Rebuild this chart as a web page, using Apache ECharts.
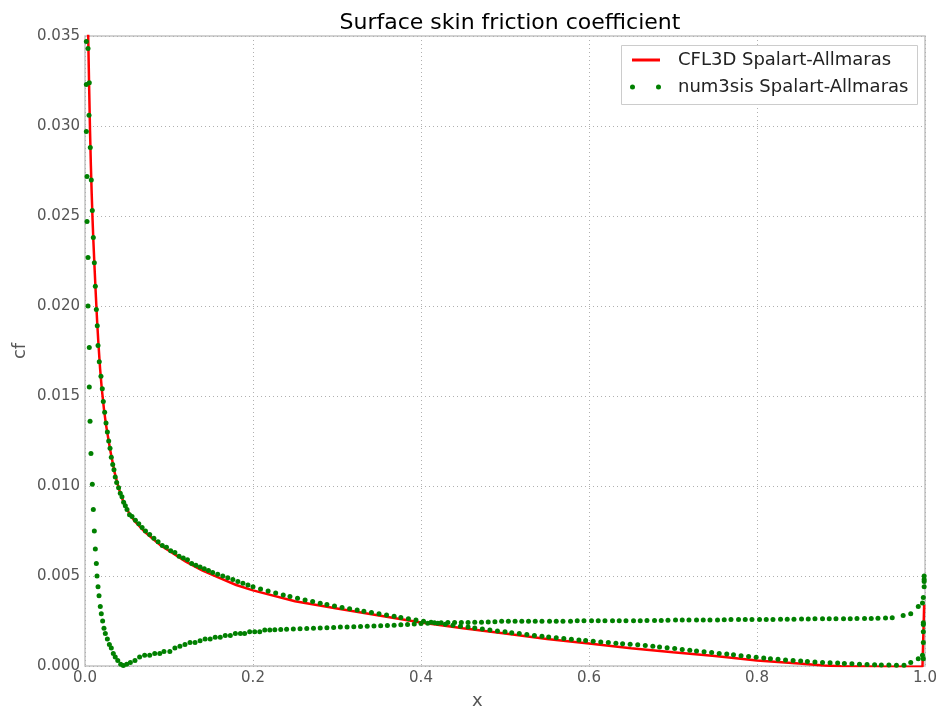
<!DOCTYPE html>
<html>
<head>
<meta charset="utf-8">
<script src="https://cdn.jsdelivr.net/npm/echarts@6/dist/echarts.min.js"></script>
<style>
html,body{margin:0;padding:0;background:#fff;}
#chart{width:940px;height:714px;}
</style>
</head>
<body>
<div id="chart"></div>
<script>
// ---- Data ----
const titleText = 'Surface skin friction coefficient';
const xAxisTitle = 'x';
const yAxisTitle = 'cf';
const lineName = 'CFL3D Spalart-Allmaras';
const dotName = 'num3sis Spalart-Allmaras';
const xTicks = [0.0, 0.2, 0.4, 0.6, 0.8, 1.0];
const yTicks = [0.000, 0.005, 0.010, 0.015, 0.020, 0.025, 0.030, 0.035];

// CFL3D reference line
const cfl3dX = [0.0030,0.0040,0.0050,0.0060,0.0070,0.0080,0.0090,0.0100,0.0115,0.0130,0.0145,0.0160,0.0180,0.0200,0.0225,0.0250,0.0275,0.0300,0.0325,0.0350,0.0400,0.0450,0.0500,0.0550,0.0600,0.0700,0.0800,0.0900,0.1000,0.1200,0.1400,0.1600,0.1800,0.2000,0.2500,0.3000,0.3500,0.4000,0.4500,0.5000,0.5500,0.6000,0.6500,0.7000,0.7500,0.8000,0.8500,0.8800,0.9000,0.9500,0.9970,0.9990];
const cfl3dCf = [0.0370,0.0345,0.0320,0.0297,0.0278,0.0262,0.0248,0.0236,0.0220,0.0205,0.0191,0.0179,0.0165,0.0154,0.0143,0.0134,0.0127,0.0120,0.0114,0.0108,0.0099,0.0092,0.0087,0.0083,0.0080,0.0075,0.0071,0.0067,0.0064,0.0058,0.0053,0.0049,0.0045,0.0042,0.0036,0.0032,0.0028,0.00242,0.0021,0.0018,0.0015,0.00125,0.00098,0.00076,0.00055,0.00031,0.00014,0.00003,-0.00002,-0.00004,-0.00004,0.0034];

// num3sis, upper-surface branch
const upperX = [0.0036,0.0051,0.0048,0.0063,0.0075,0.0087,0.0099,0.0111,0.0123,0.0135,0.0146,0.0155,0.0170,0.0190,0.0206,0.0218,0.0234,0.0250,0.0266,0.0282,0.0298,0.0313,0.0330,0.0345,0.0360,0.0377,0.0400,0.0420,0.0440,0.0460,0.0480,0.0500,0.0530,0.0560,0.0600,0.0640,
0.068,0.072,0.077,0.082,0.087,0.092,0.097,0.102,0.107,0.112,0.117,0.122,0.127,0.132,0.137,0.142,0.147,0.152,0.158,0.164,0.170,0.176,0.182,0.188,0.194,
0.200,0.209,0.218,0.227,0.236,0.244,0.253,0.262,0.271,0.280,0.288,0.297,0.306,0.315,0.324,0.332,0.341,0.350,0.359,0.368,0.376,0.385,0.394,0.403,0.412,0.420,0.429,0.438,0.447,0.456,0.464,0.473,0.482,0.491,0.500,0.508,0.517,0.526,0.535,0.544,0.552,0.561,0.570,0.579,0.588,0.596,0.605,0.614,0.623,0.632,0.640,0.649,0.658,0.667,0.676,0.684,0.693,0.702,0.711,0.720,0.728,0.737,0.746,0.755,0.764,0.772,0.781,0.790,0.799,0.808,0.816,0.825,0.834,0.843,0.852,0.860,0.869,0.878,0.887,0.896,0.904,0.913,0.922,0.931,0.940,0.948,0.957,0.966,0.975,
0.983,0.992,0.997,0.998,0.998,0.998,0.998,0.998];
const upperCf = [0.0343,0.0324,0.0306,0.0288,0.0270,0.0253,0.0238,0.0224,0.0211,0.0198,0.0189,0.0178,0.0169,0.0161,0.0154,0.0147,0.0141,0.0135,0.0130,0.0125,0.0121,0.0116,0.0112,0.0109,0.0105,0.0102,0.0099,0.0096,0.0094,0.0091,0.0089,0.0087,0.0084,0.0083,0.0081,0.0079,
0.0077,0.0075,0.0073,0.0071,0.0069,0.0067,0.0066,0.0064,0.0063,0.0061,0.0060,0.0059,0.0057,0.0056,0.0055,0.0054,0.0053,0.0052,0.0051,0.0050,0.0049,0.0048,0.0047,0.0046,0.0045,
0.00440,0.00428,0.00416,0.00405,0.00394,0.00386,0.00377,0.00367,0.00358,0.00349,0.00341,0.00333,0.00325,0.00318,0.00311,0.00304,0.00297,0.00290,0.00283,0.00277,0.00270,0.00263,0.00255,0.00248,0.00243,0.00237,0.00232,0.00227,0.00221,0.00216,0.00211,0.00205,0.00200,0.00195,0.00190,0.00185,0.00180,0.00175,0.00170,0.00165,0.00161,0.00157,0.00153,0.00149,0.00145,0.00141,0.00137,0.00134,0.00130,0.00127,0.00124,0.00121,0.00118,0.00114,0.00110,0.00106,0.00102,0.00097,0.00092,0.00087,0.00083,0.00079,0.00075,0.00070,0.00066,0.00062,0.00057,0.00053,0.00048,0.00044,0.00040,0.00037,0.00034,0.00031,0.00028,0.00025,0.00022,0.00020,0.00018,0.00016,0.00014,0.00012,0.00010,0.00008,0.00007,0.00006,0.00005,0.00004,0.00004,
0.00020,0.00040,0.00060,0.00040,0.00130,0.00190,0.00230,0.00240];

// num3sis, lower-surface branch
const lowerX = [0.0016,0.0016,0.0016,0.0024,0.0024,0.0036,0.0036,0.0051,0.0051,0.0060,0.0071,0.0087,0.0099,0.0111,0.0123,0.0135,0.0143,0.0155,0.0167,0.0182,0.0194,0.0210,0.0226,0.0242,0.0266,0.0290,0.0313,0.0337,0.0360,0.0390,0.0425,0.0456,0.0496,0.0540,0.0595,0.0650,0.0710,0.0770,0.0830,0.0890,0.0940,
0.101,0.107,0.113,0.119,0.125,0.131,0.137,0.143,0.149,0.155,0.161,0.167,0.173,0.179,0.185,0.190,0.196,0.202,0.208,0.214,0.220,
0.226,0.233,0.240,0.248,0.256,0.264,0.272,0.280,0.288,0.296,0.304,0.312,0.320,0.328,0.336,0.344,0.352,0.360,0.368,0.376,0.384,0.392,0.400,0.408,0.416,0.424,0.432,0.440,0.448,0.456,0.464,0.472,0.480,0.488,0.496,0.504,0.512,0.520,0.528,0.536,0.544,0.553,0.561,0.569,0.578,0.586,0.594,0.603,0.611,0.619,0.628,0.636,0.644,0.653,0.661,0.669,0.678,0.686,0.694,0.703,0.711,0.719,0.728,0.736,0.744,0.753,0.761,0.769,0.778,0.786,0.794,0.803,0.811,0.819,0.828,0.836,0.844,0.853,0.861,0.869,0.878,0.886,0.894,0.903,0.911,0.919,0.928,0.936,0.944,0.953,0.961,
0.974,0.983,0.992,0.997,0.998,0.999,0.999,0.999,0.999];
const lowerCf = [0.0347,0.0323,0.0297,0.0272,0.0247,0.0227,0.0200,0.0177,0.0155,0.0136,0.0118,0.0101,0.0087,0.0075,0.0065,0.0057,0.0050,0.0044,0.0039,0.0033,0.0029,0.0025,0.0021,0.0018,0.0015,0.0012,0.0010,0.0007,0.0005,0.0003,0.0001,0.00003,0.0001,0.0002,0.0003,0.0005,0.0006,0.0006,0.0007,0.0007,0.0008,
0.0008,0.0010,0.0011,0.0012,0.0013,0.0013,0.0014,0.0015,0.0015,0.0016,0.0016,0.0017,0.0017,0.0018,0.0018,0.0018,0.0019,0.0019,0.0019,0.0020,0.0020,
0.00201,0.00203,0.00204,0.00205,0.00207,0.00208,0.00210,0.00211,0.00213,0.00214,0.00216,0.00217,0.00218,0.00219,0.00221,0.00222,0.00223,0.00225,0.00227,0.00229,0.00231,0.00234,0.00236,0.00238,0.00240,0.00240,0.00241,0.00241,0.00242,0.00242,0.00243,0.00243,0.00244,0.00246,0.00248,0.00248,0.00248,0.00248,0.00248,0.00248,0.00248,0.00249,0.00249,0.00249,0.00249,0.00251,0.00252,0.00252,0.00252,0.00252,0.00252,0.00252,0.00252,0.00252,0.00252,0.00253,0.00253,0.00253,0.00254,0.00256,0.00256,0.00256,0.00256,0.00256,0.00256,0.00256,0.00257,0.00258,0.00258,0.00258,0.00258,0.00258,0.00258,0.00259,0.00260,0.00260,0.00260,0.00261,0.00261,0.00262,0.00262,0.00262,0.00262,0.00263,0.00263,0.00264,0.00264,0.00264,0.00265,0.00266,0.00268,
0.0028,0.0029,0.0033,0.0035,0.0038,0.0044,0.0047,0.0048,0.0050];

// ---- Build chart ----
const zip = (xs, ys) => xs.map((x, i) => [x, ys[i]]);
const lineData = zip(cfl3dX, cfl3dCf);
const dotData = zip(upperX, upperCf).concat(zip(lowerX, lowerCf));

const FONT = 'DejaVu Sans';
const chart = echarts.init(document.getElementById('chart'), null, {renderer: 'canvas'});
const gridL = 85, gridT = 36, gridR = 15, gridB = 48;

chart.setOption({
  animation: false,
  backgroundColor: '#ffffff',
  title: {
    text: titleText,
    left: 505, top: 7,
    textAlign: 'center',
    textStyle: {fontFamily: FONT, fontSize: 22, fontWeight: 'normal', color: '#000'}
  },
  grid: {left: gridL, top: gridT, right: gridR, bottom: gridB, show: true,
         borderColor: '#c4c4c4', borderWidth: 1.5, backgroundColor: '#fff'},
  xAxis: {
    type: 'value', min: 0, max: 1, interval: 0.2,
    axisLine: {show: false}, axisTick: {show: false},
    axisLabel: {fontFamily: FONT, fontSize: 15, color: '#555', margin: 5,
                formatter: v => xTicks.includes(+v.toFixed(1)) ? v.toFixed(1) : ''},
    splitLine: {show: true, lineStyle: {color: '#b0b0b0', type: [1, 3], width: 1}}
  },
  yAxis: {
    type: 'value', min: 0, max: 0.035, interval: 0.005,
    axisLine: {show: false}, axisTick: {show: false},
    axisLabel: {fontFamily: FONT, fontSize: 15, color: '#555', margin: 5,
                formatter: v => v.toFixed(3)},
    splitLine: {show: true, lineStyle: {color: '#b0b0b0', type: [1, 3], width: 1}}
  },
  legend: [
    {
      data: [lineName], left: 632, top: 51, padding: 0, z: 20,
      icon: 'rect', itemWidth: 28, itemHeight: 3,
      textStyle: {fontFamily: FONT, fontSize: 18, color: '#222', padding: [0, 0, 0, 13]},
      selectedMode: false
    },
    {
      data: [dotName], left: 630, top: 78, padding: 0, z: 20,
      icon: 'path://M0,2.5a2.5,2.5 0 1,0 5,0a2.5,2.5 0 1,0 -5,0M26,2.5a2.5,2.5 0 1,0 5,0a2.5,2.5 0 1,0 -5,0',
      itemWidth: 31, itemHeight: 5,
      textStyle: {fontFamily: FONT, fontSize: 18, color: '#222', padding: [0, 0, 0, 12]},
      selectedMode: false
    }
  ],
  graphic: [
    {type: 'rect', left: 621, top: 45, z: 10,
     shape: {width: 296, height: 59},
     style: {fill: '#ffffff', stroke: '#cccccc', lineWidth: 1}},
    {type: 'text', left: 472, top: 692, z: 10,
     style: {text: xAxisTitle, font: '18px "DejaVu Sans"', fill: '#555'}},
    {type: 'text', x: 20, y: 351, rotation: Math.PI / 2, z: 10,
     style: {text: yAxisTitle, font: '18px "DejaVu Sans"', fill: '#555',
             textAlign: 'center', textVerticalAlign: 'middle'}}
  ],
  series: [
    {
      name: lineName, type: 'line', data: lineData,
      showSymbol: false, symbol: 'none', clip: true, z: 2,
      color: '#ff0000',
      lineStyle: {color: '#ff0000', width: 2.5}
    },
    {
      name: dotName, type: 'scatter', data: dotData,
      symbol: 'circle', symbolSize: 5, clip: true, z: 3,
      color: '#008000',
      itemStyle: {color: '#008000', opacity: 1}
    }
  ]
});
</script>
</body>
</html>
